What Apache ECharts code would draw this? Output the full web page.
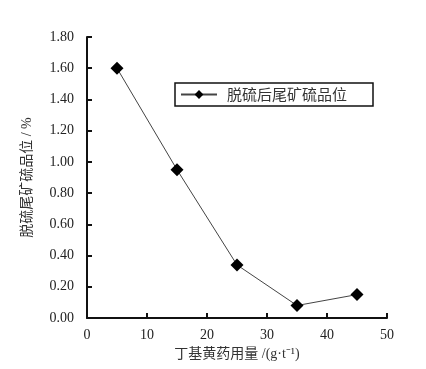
<!DOCTYPE html>
<html><head><meta charset="utf-8">
<script src="https://cdn.jsdelivr.net/npm/echarts@6/dist/echarts.min.js"></script>
<style>html,body{margin:0;padding:0;background:#fff}#c{width:426px;height:369px}</style>
</head><body><div id="c"></div>
<script>
const xValues = [5, 15, 25, 35, 45];
const sulfurGrade = [1.60, 0.95, 0.34, 0.08, 0.15];
const seriesName = '脱硫后尾矿硫品位';
const xName = '丁基黄药用量 /(g·t⁻¹)';
const yName = '脱硫尾矿硫品位 / %';

const chart = echarts.init(document.getElementById('c'));
const serif = '"Liberation Serif", "Noto Sans CJK SC", serif';
chart.setOption({
  animation: false,
  backgroundColor: '#fff',
  grid: { left: 87, right: 39, top: 37, bottom: 51 },
  legend: {
    left: 175, top: 83,
    data: [seriesName],
    itemWidth: 36, itemHeight: 11,
    padding: [4, 26, 4, 5],
    borderColor: '#111', borderWidth: 1.5,
    textStyle: { fontFamily: '"Noto Sans CJK SC", sans-serif', fontSize: 15, color: '#333', padding: [0, 0, 0, 5] }
  },
  xAxis: {
    type: 'value', min: 0, max: 50, interval: 10,
    name: xName, nameLocation: 'middle', nameGap: 29,
    nameTextStyle: { fontFamily: serif, fontSize: 14, color: '#333' },
    axisLine: { lineStyle: { color: '#111', width: 2 } },
    axisTick: { inside: true, length: 5, lineStyle: { color: '#111', width: 2 } },
    axisLabel: { fontFamily: serif, fontSize: 14, color: '#222', margin: 10 },
    splitLine: { show: false }
  },
  yAxis: {
    type: 'value', min: 0, max: 1.8, interval: 0.2,
    name: yName, nameLocation: 'middle', nameGap: 53, nameRotate: 90,
    nameTextStyle: { fontFamily: serif, fontSize: 14, color: '#333' },
    axisLine: { show: true, lineStyle: { color: '#111', width: 2 } },
    axisTick: { show: true, inside: true, length: 5, lineStyle: { color: '#111', width: 2 } },
    axisLabel: { fontFamily: serif, fontSize: 14, color: '#222', margin: 13, formatter: v => v.toFixed(2) },
    splitLine: { show: false }
  },
  series: [{
    name: seriesName, type: 'line', data: xValues.map((x, i) => [x, sulfurGrade[i]]),
    symbol: 'diamond', symbolSize: 13,
    lineStyle: { color: '#444', width: 1 },
    itemStyle: { color: '#000' }
  }]
});
</script></body></html>
